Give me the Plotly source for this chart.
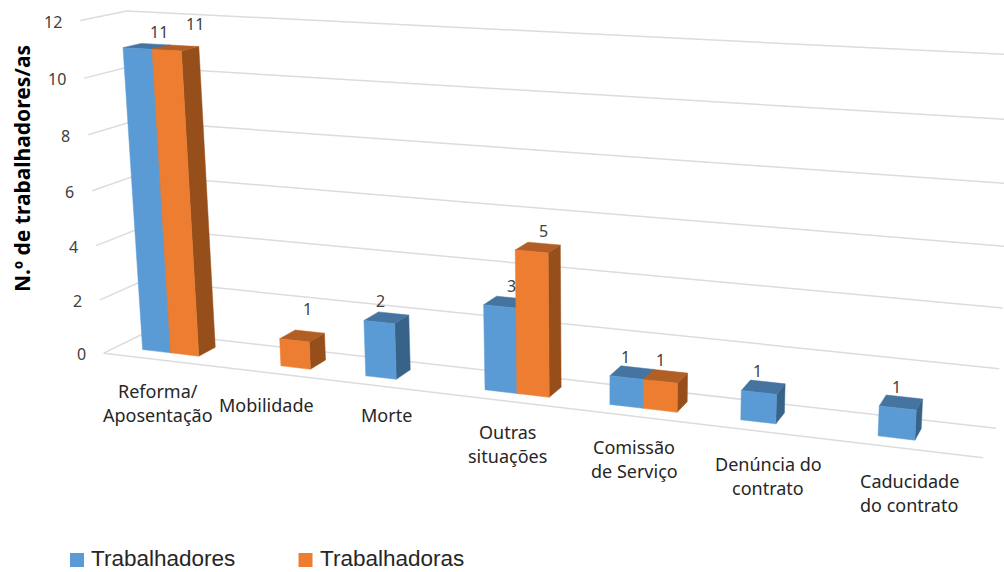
"""
plot.py
3D-style clustered columns, projected onto a plain 2D plot (plotly has no 3D bar trace).
"""

import numpy as np
import plotly.graph_objects as go

categories = ["Reforma/<br>Aposentação", "Mobilidade", "Morte", "Outras<br>situações",
              "Comissão<br>de Serviço", "Denúncia do<br>contrato", "Caducidade<br>do contrato"]
trabalhadores = [11, None, 2, 3, 1, 1, 1]
trabalhadoras = [11, 1, None, 5, 1, None, None]
y_ticks = [0, 2, 4, 6, 8, 10, 12]

# where the walls of the chart box land on the page: (category, depth, value) -> (px, py)
box_corners = [
    ((0, 0, 0), (104, 353)), ((7, 0, 0), (983, 458)),
    ((0, 1, 0), (147, 332)), ((7, 1, 0), (996, 428)),
    ((0, 0, 12), (80, 20.5)), ((0, 1, 12), (127, 11)), ((7, 1, 12), (1017, 55)),
]

BAR_W = 0.26
BAR_GAP = 0.24
DEPTH = (0.3, 0.7)

BLUE = ("#5B9BD5", "#44749F", "#386389")
ORANGE = ("#ED7D31", "#B15F25", "#964F1B")
FONT = "Noto Sans"
TEXT = "#404040"


def fit_projection(corners):
    rows = []
    for (u, v, z), (px, py) in corners:
        rows.append([u, v, z, 1, 0, 0, 0, 0, -px * u, -px * v, -px * z, -px])
        rows.append([0, 0, 0, 0, u, v, z, 1, -py * u, -py * v, -py * z, -py])
    return np.linalg.svd(np.array(rows, dtype=float))[2][-1].reshape(3, 4)


P = fit_projection(box_corners)


def project(u, v, z):
    x, y, w = P @ np.array([u, v, z, 1.0])
    return x / w, y / w


def polygons(faces):
    xs, ys = [], []
    for face in faces:
        pts = [project(*p) for p in face + face[:1]]
        xs += [p[0] for p in pts] + [None]
        ys += [p[1] for p in pts] + [None]
    return xs, ys


def add_faces(fig, faces, color):
    x, y = polygons(faces)
    fig.add_trace(go.Scatter(x=x, y=y, mode="lines", fill="toself", fillcolor=color,
                             line=dict(color=color, width=0.5), hoverinfo="skip", showlegend=False))


def add_series(fig, values, slot, colors):
    fronts, tops, sides = [], [], []
    v0, v1 = DEPTH
    for i, val in enumerate(values):
        if val is None:
            continue
        a = i + BAR_GAP + slot * BAR_W
        b = a + BAR_W
        fronts.append([(a, v0, 0), (b, v0, 0), (b, v0, val), (a, v0, val)])
        tops.append([(a, v0, val), (b, v0, val), (b, v1, val), (a, v1, val)])
        sides.append([(b, v0, 0), (b, v1, 0), (b, v1, val), (b, v0, val)])
    add_faces(fig, sides, colors[2])
    add_faces(fig, tops, colors[1])
    add_faces(fig, fronts, colors[0])


fig = go.Figure()

# gridlines: left wall then back wall, plus the floor front edge
for t in y_ticks:
    pts = [project(0, 0, t), project(0, 1, t), project(7, 1, t)]
    fig.add_trace(go.Scatter(x=[p[0] for p in pts], y=[p[1] for p in pts], mode="lines",
                             line=dict(color="#DCDCDC", width=1.5), hoverinfo="skip", showlegend=False))
front = [project(0, 0, 0), project(7, 0, 0)]
fig.add_trace(go.Scatter(x=[p[0] for p in front], y=[p[1] for p in front], mode="lines",
                         line=dict(color="#DCDCDC", width=1.5), hoverinfo="skip", showlegend=False))

add_series(fig, trabalhadores, 0, BLUE)
add_series(fig, trabalhadoras, 1, ORANGE)

# value axis labels sit just left of the front wall edge
for t in y_ticks:
    x, y = project(0, 0, t)
    fig.add_annotation(x=x - 16, y=y + 1, text=str(t), showarrow=False, xanchor="right",
                       font=dict(family=FONT, size=16, color=TEXT))

# data labels, nudged off the back edge of each bar top
label_nudge = {
    (0, 0): (4, -12), (0, 1): (11, -22), (1, 1): (-2, -23), (2, 0): (-13, -12), (3, 0): (-1, -12),
    (3, 1): (-1, -13), (4, 0): (-12, -11), (4, 1): (-10, -11), (5, 0): (-10, -11), (6, 0): (-8, -10),
}
for slot, values in enumerate([trabalhadores, trabalhadoras]):
    for i, val in enumerate(values):
        if val is None:
            continue
        x, y = project(i + BAR_GAP + (slot + 0.5) * BAR_W, DEPTH[1], val)
        dx, dy = label_nudge[(i, slot)]
        fig.add_annotation(x=x + dx, y=y + dy, text=str(val), showarrow=False,
                           font=dict(family=FONT, size=16, color=TEXT))

# category labels step down the page with the floor
label_pos = [(158, 391), (266.5, 405), (386, 415), (507, 432), (634, 447), (768, 464), (909, 481)]
for (x, y), cat in zip(label_pos, categories):
    for n, line in enumerate(cat.split("<br>")):
        fig.add_annotation(x=x, y=y + n * 24.3, text=line, showarrow=False,
                           font=dict(family=FONT, size=18, color="#262626"))

fig.add_annotation(x=22, y=169, text="<b>N.º de trabalhadores/as</b>", textangle=-90, showarrow=False,
                   font=dict(family=FONT, size=21, color="black"))

# legend row
legend_names = ["Trabalhadores", "Trabalhadoras"]
legend_x = [77, 305.5]
legend_colors = [BLUE[0], ORANGE[0]]
fig.add_trace(go.Scatter(x=legend_x, y=[560, 560], mode="markers", hoverinfo="skip", showlegend=False,
                         marker=dict(symbol="square", size=14, color=legend_colors)))
for x, name in zip(legend_x, legend_names):
    fig.add_annotation(x=x + 12, y=558.5, text=name, showarrow=False, xanchor="left",
                       font=dict(family="Liberation Sans", size=22.5, color="#262626"))

fig.update_xaxes(range=[0, 1004], visible=False, fixedrange=True)
fig.update_yaxes(range=[572, 0], visible=False, fixedrange=True)
fig.update_layout(width=1004, height=572, margin=dict(l=0, r=0, t=0, b=0),
                  paper_bgcolor="white", plot_bgcolor="white")

fig.write_html("out.html", config={"displayModeBar": False},
               post_script="document.body.style.margin='0'")
